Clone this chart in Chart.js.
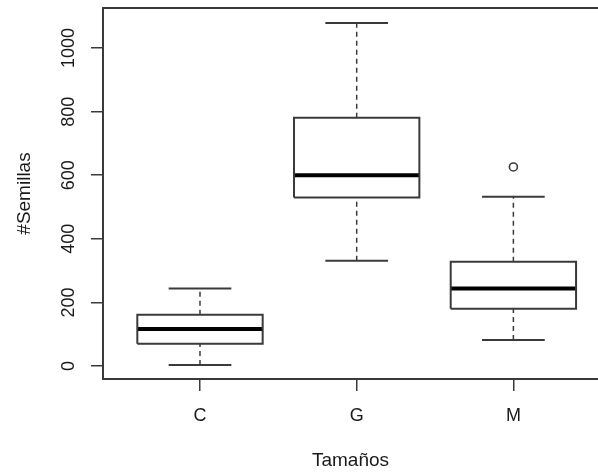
<!DOCTYPE html>
<html>
<head>
<meta charset="utf-8">
<script src="https://cdn.jsdelivr.net/npm/chart.js@4/dist/chart.umd.min.js"></script>
<style>
  body { margin: 0; background: #fff; overflow: hidden; }
</style>
</head>
<body>
<canvas id="chart" width="598" height="472"></canvas>
<script>
// boxplot stats
const categories = ["C", "G", "M"];
const whiskerLow = [3, 331, 82];
const q1 = [70, 530, 180];
const median = [116, 600, 244];
const q3 = [161, 781, 328];
const whiskerHigh = [244, 1079, 532];
const outliers = [[], [], [626]];
const yTicks = [0, 200, 400, 600, 800, 1000];

const ink = "#3a3a3a";
const font = { family: "'Liberation Sans', Arial, sans-serif", size: 18 };

const line = (pts, extra) => Object.assign({
  type: "scatter",
  data: pts,
  showLine: true,
  pointRadius: 0,
  borderColor: ink,
  borderWidth: 2,
  borderCapStyle: "butt",
  borderJoinStyle: "miter",
  tension: 0,
  fill: false,
}, extra);

const datasets = [];
categories.forEach((c, i) => {
  const x = i + 1;
  // whiskers
  datasets.push(line([{ x: x, y: q3[i] }, { x: x, y: whiskerHigh[i] }], { borderDash: [5, 4], borderWidth: 1.5 }));
  datasets.push(line([{ x: x, y: whiskerLow[i] }, { x: x, y: q1[i] }], { borderDash: [5, 4], borderWidth: 1.5 }));
  // caps
  datasets.push(line([{ x: x - 0.2, y: whiskerHigh[i] }, { x: x + 0.2, y: whiskerHigh[i] }]));
  datasets.push(line([{ x: x - 0.2, y: whiskerLow[i] }, { x: x + 0.2, y: whiskerLow[i] }]));
  // box
  datasets.push(line([
    { x: x - 0.4, y: q1[i] }, { x: x + 0.4, y: q1[i] },
    { x: x + 0.4, y: q3[i] }, { x: x - 0.4, y: q3[i] },
    { x: x - 0.4, y: q1[i] }
  ]));
  // median
  datasets.push(line([{ x: x - 0.4, y: median[i] }, { x: x + 0.4, y: median[i] }], { borderColor: "#000", borderWidth: 4 }));
  // outliers
  if (outliers[i].length) {
    datasets.push({
      type: "scatter",
      data: outliers[i].map(v => ({ x: x, y: v })),
      pointStyle: "circle",
      pointRadius: 4,
      pointBorderWidth: 1.6,
      pointBorderColor: ink,
      pointBackgroundColor: "rgba(0,0,0,0)",
    });
  }
});

// no extra label padding around the plot box
const noPad = s => { s.paddingTop = s.paddingBottom = s.paddingLeft = s.paddingRight = 0; };

new Chart(document.getElementById("chart"), {
  type: "scatter",
  data: { datasets: datasets },
  options: {
    responsive: false,
    animation: false,
    layout: { padding: 0, autoPadding: false },
    plugins: { legend: { display: false }, tooltip: { enabled: false } },
    scales: {
      x: {
        type: "linear",
        position: "bottom",
        min: 0.381,
        max: 3.54,
        afterBuildTicks: s => { s.ticks = categories.map((c, i) => ({ value: i + 1 })); },
        afterFit: s => { s.height = 93; noPad(s); },
        ticks: {
          color: "#1a1a1a",
          font: font,
          padding: 14,
          maxRotation: 0,
          callback: v => categories[v - 1],
        },
        grid: { drawOnChartArea: false, tickLength: 12, color: ink, lineWidth: 1.5 },
        border: { display: true, color: ink, width: 2 },
        title: { display: true, text: "Tamaños", color: "#1a1a1a", font: { family: font.family, size: 19 }, padding: { top: 14, bottom: 0 } },
      },
      x2: {
        type: "linear",
        position: "top",
        min: 0,
        max: 1,
        afterFit: s => { s.height = 8; noPad(s); },
        ticks: { display: false },
        grid: { display: false, drawTicks: false },
        border: { display: true, color: ink, width: 2 },
      },
      y: {
        type: "linear",
        min: -41,
        max: 1126,
        afterBuildTicks: s => { s.ticks = yTicks.map(v => ({ value: v })); },
        afterFit: s => { s.width = 103; noPad(s); },
        ticks: {
          color: "#1a1a1a",
          font: font,
          minRotation: 90,
          maxRotation: 90,
          crossAlign: "center",
          padding: 1.5,
          callback: v => String(v),
        },
        grid: { drawOnChartArea: false, tickLength: 12, color: ink, lineWidth: 1.5 },
        border: { display: true, color: ink, width: 2 },
        title: { display: true, text: "#Semillas", color: "#1a1a1a", font: { family: font.family, size: 19 }, padding: { top: 13, bottom: 0 } },
      },
    },
  },
});
</script>
</body>
</html>
